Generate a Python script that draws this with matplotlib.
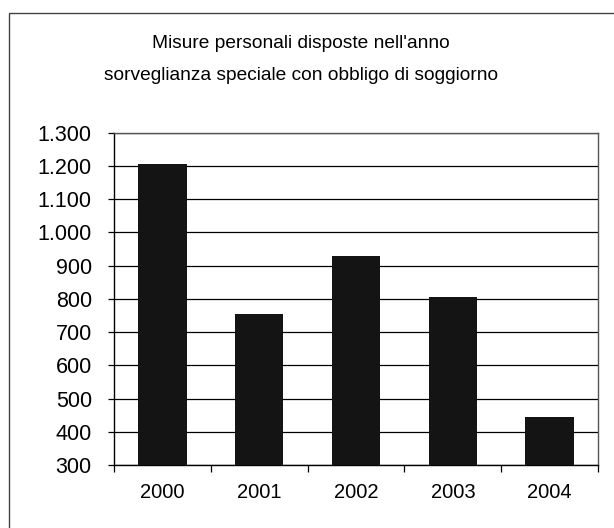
import matplotlib
matplotlib.use("Agg")
import matplotlib.pyplot as plt
import numpy as np
from matplotlib.ticker import FuncFormatter, FixedLocator
from matplotlib.patches import Rectangle

plt.rcParams['font.family'] = ['Liberation Sans', 'DejaVu Sans']

years = ["2000", "2001", "2002", "2003", "2004"]
misure = [1205, 754, 929, 806, 443]
title_lines = ["Misure personali disposte nell'anno",
               "sorveglianza speciale con obbligo di soggiorno"]

fig = plt.figure(figsize=(6.14, 5.28), dpi=100)
fig.patch.set_facecolor("white")

# outer chart frame (right and bottom edges fall outside the scan)
fig.patches.append(Rectangle((0.015, -0.05), 1.2, 1.025, transform=fig.transFigure,
                             fill=False, edgecolor="#444444", linewidth=1.0))

ax = fig.add_axes([0.1857, 0.1193, 0.7883, 0.6294])
x = np.arange(len(years))
ax.bar(x, misure, width=0.5, color="#141414", zorder=3)

ax.set_ylim(300, 1300)
ax.set_xlim(-0.5, len(years) - 0.5)
ax.set_yticks(np.arange(300, 1301, 100))
ax.yaxis.set_major_formatter(FuncFormatter(lambda v, p: f"{int(v):,}".replace(",", ".")))
ax.grid(axis="y", color="black", linewidth=0.9, zorder=1)

ax.set_xticks(x)
ax.set_xticklabels(years)
ax.xaxis.set_minor_locator(FixedLocator(np.arange(-0.5, len(years), 1.0)))
ax.tick_params(axis="x", which="major", length=0, pad=13, labelsize=14.5)
ax.tick_params(axis="x", which="minor", length=5, width=0.9, direction="out")
ax.tick_params(axis="y", length=4, width=0.9, direction="out", pad=12, labelsize=15.5)

for side in ["top", "right"]:
    ax.spines[side].set_color("#555555")
    ax.spines[side].set_linewidth(1.0)
for side in ["left", "bottom"]:
    ax.spines[side].set_color("black")
    ax.spines[side].set_linewidth(1.0)

fig.text(0.49, 1 - 43 / 528, title_lines[0], ha="center", va="center", fontsize=13.8)
fig.text(0.49, 1 - 75 / 528, title_lines[1], ha="center", va="center", fontsize=13.8)

fig.savefig("out.png", dpi=100)
